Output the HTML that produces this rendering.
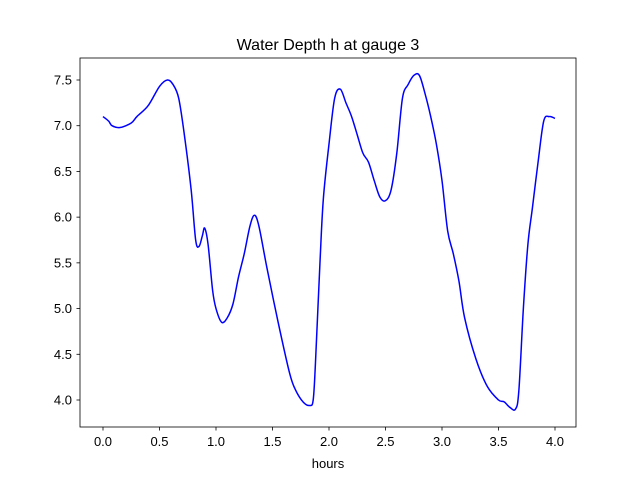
<!DOCTYPE html>
<html><head><meta charset="utf-8"><style>
body{margin:0;background:#fff;}
svg text{font-family:"Liberation Sans","DejaVu Sans",sans-serif;font-size:13px;fill:#000;}
</style></head><body>
<svg id="s" width="640" height="480" viewBox="0 0 640 480" xmlns="http://www.w3.org/2000/svg">
<rect x="0" y="0" width="640" height="480" fill="#fff"/>
<text x="328" y="50" text-anchor="middle" style="font-size:16px">Water Depth h at gauge 3</text>
<path id="curve" fill="none" stroke="#0000ff" stroke-width="1.5" d=""/>
<rect x="80" y="58" width="496" height="369" fill="none" stroke="#000" stroke-width="0.8"/>
<g id="ticks" stroke="#000" stroke-width="0.8"></g>
<g id="labels"></g>
<text x="328" y="468" text-anchor="middle">hours</text>
</svg>
<script>
var X=function(h){return 103+h*113;},Y=function(v){return 400-(v-4)*91.43;};
var ns="http://www.w3.org/2000/svg",t=document.getElementById('ticks'),l=document.getElementById('labels');
function ln(x1,y1,x2,y2){var e=document.createElementNS(ns,'line');e.setAttribute('x1',x1);e.setAttribute('y1',y1);e.setAttribute('x2',x2);e.setAttribute('y2',y2);t.appendChild(e);}
function tx(x,y,s,a){var e=document.createElementNS(ns,'text');e.setAttribute('x',x);e.setAttribute('y',y);e.setAttribute('text-anchor',a);e.textContent=s;l.appendChild(e);}
for(var i=0;i<=8;i++){var h=i*0.5,x=X(h);ln(x,427,x,430.5);tx(x,446,h.toFixed(1),'middle');}
for(var i=0;i<=7;i++){var v=4+i*0.5,y=Y(v);ln(76.5,y,80,y);tx(72,y+4.5,v.toFixed(1),'end');}
var d=[[0,7.1],[0.05,7.05],[0.08,7.0],[0.15,6.98],[0.25,7.03],[0.3,7.1],[0.4,7.22],[0.5,7.43],[0.57,7.5],[0.62,7.45],[0.67,7.3],[0.72,6.9],[0.78,6.3],[0.82,5.75],[0.85,5.68],[0.88,5.8],[0.9,5.88],[0.93,5.7],[0.97,5.2],[1.0,5.0],[1.05,4.85],[1.1,4.9],[1.15,5.05],[1.2,5.35],[1.25,5.6],[1.3,5.9],[1.34,6.02],[1.38,5.9],[1.45,5.45],[1.55,4.85],[1.65,4.3],[1.7,4.12],[1.77,3.98],[1.83,3.94],[1.86,4.0],[1.88,4.4],[1.92,5.5],[1.95,6.2],[2.0,6.8],[2.05,7.3],[2.1,7.4],[2.15,7.25],[2.2,7.1],[2.25,6.9],[2.3,6.7],[2.35,6.6],[2.4,6.4],[2.45,6.22],[2.5,6.18],[2.55,6.3],[2.6,6.7],[2.65,7.3],[2.7,7.45],[2.75,7.55],[2.8,7.55],[2.85,7.35],[2.9,7.1],[2.95,6.8],[3.0,6.4],[3.05,5.85],[3.1,5.6],[3.15,5.3],[3.2,4.9],[3.3,4.45],[3.4,4.15],[3.5,4.0],[3.55,3.98],[3.6,3.92],[3.65,3.9],[3.68,4.1],[3.72,5.0],[3.76,5.7],[3.8,6.1],[3.85,6.6],[3.9,7.05],[3.95,7.1],[4.0,7.08]];
var p=d.map(function(a){return [X(a[0]),Y(a[1])];});
var s='M'+p[0][0]+','+p[0][1];
for(var i=0;i<p.length-1;i++){var p0=p[i-1]||p[i],p1=p[i],p2=p[i+1],p3=p[i+2]||p2;
s+=' C'+(p1[0]+(p2[0]-p0[0])/6)+','+(p1[1]+(p2[1]-p0[1])/6)+' '+(p2[0]-(p3[0]-p1[0])/6)+','+(p2[1]-(p3[1]-p1[1])/6)+' '+p2[0]+','+p2[1];}
document.getElementById('curve').setAttribute('d',s);
</script>
</body></html>
